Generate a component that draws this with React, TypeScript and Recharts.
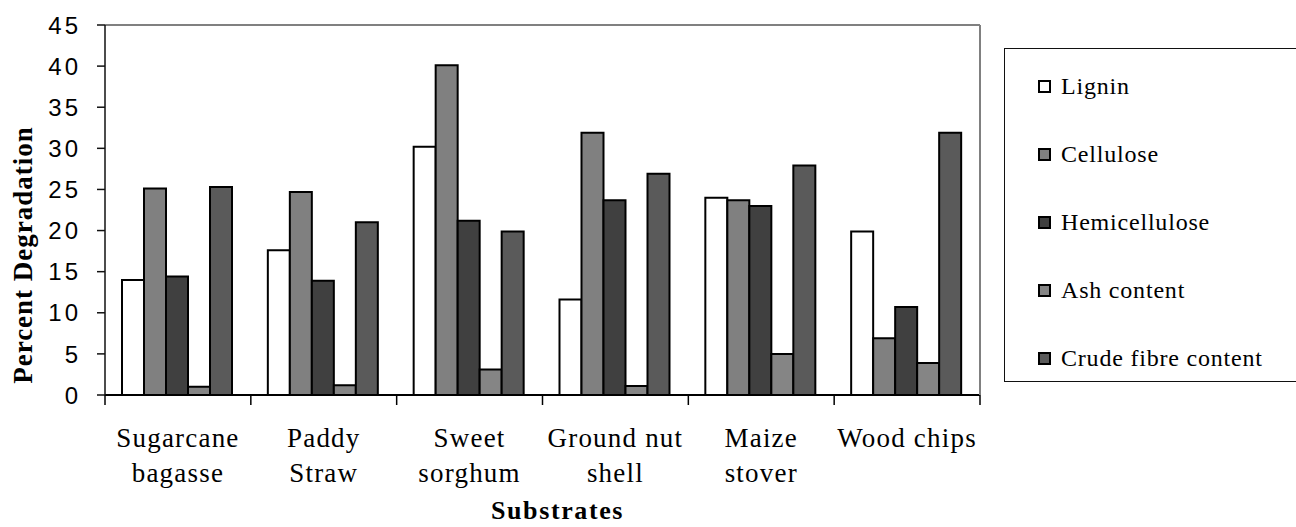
import React from 'react';
import { BarChart, Bar, XAxis, YAxis, Legend } from 'recharts';

const categories = ['Sugarcane bagasse', 'Paddy Straw', 'Sweet sorghum', 'Ground nut shell', 'Maize stover', 'Wood chips'];
const categoryLines = [['Sugarcane', 'bagasse'], ['Paddy', 'Straw'], ['Sweet', 'sorghum'], ['Ground nut', 'shell'], ['Maize', 'stover'], ['Wood chips']];

const seriesNames = ['Lignin', 'Cellulose', 'Hemicellulose', 'Ash content', 'Crude fibre content'];
const lignin = [14.0, 17.6, 30.2, 11.6, 24.0, 19.9];
const cellulose = [25.1, 24.7, 40.1, 31.9, 23.7, 6.9];
const hemicellulose = [14.4, 13.9, 21.2, 23.7, 23.0, 10.7];
const ash = [1.0, 1.2, 3.1, 1.1, 5.0, 3.9];
const crudeFibre = [25.3, 21.0, 19.9, 26.9, 27.9, 31.9];

const yTicks = [0, 5, 10, 15, 20, 25, 30, 35, 40, 45];

const data = categories.map((c, i) => ({
  name: c,
  lignin: lignin[i],
  cellulose: cellulose[i],
  hemicellulose: hemicellulose[i],
  ash: ash[i],
  crude: crudeFibre[i],
}));

const SERIF = '"Liberation Serif", serif';
const SANS = '"Liberation Sans", sans-serif';

const CategoryTick = (props: any) => {
  const { x, y, index, payload, visibleTicksCount } = props;
  const lines = categoryLines[index] || [];
  const half = payload && typeof payload.offset === 'number' ? payload.offset : 0;
  const isLast = index === (visibleTicksCount || categories.length) - 1;
  return (
    <g>
      <line x1={x - half} y1={y} x2={x - half} y2={y + 10} stroke="#000" strokeWidth={1.5} />
      {isLast && <line x1={x + half} y1={y} x2={x + half} y2={y + 10} stroke="#000" strokeWidth={1.5} />}
      {lines.map((l, i) => (
        <text key={i} x={x} y={y + 52 + i * 35} textAnchor="middle" fontFamily={SERIF} fontSize={27} letterSpacing={1.2} fill="#000">
          {l}
        </text>
      ))}
    </g>
  );
};

const YTick = (props: any) => {
  const { x, y, payload } = props;
  return (
    <text x={x} y={y} dy="0.36em" textAnchor="end" fontFamily={SANS} fontSize={24} letterSpacing={3} fill="#000">
      {payload.value}
    </text>
  );
};

const YTitle = (props: any) => {
  const vb = props.viewBox || { x: 0, y: 0, width: 0, height: 0 };
  const cx = vb.x + 32;
  const cy = vb.y + vb.height / 2 + 45;
  return (
    <text x={cx} y={cy} transform={`rotate(-90, ${cx}, ${cy})`} textAnchor="middle" fontFamily={SERIF} fontWeight="bold" fontSize={27} letterSpacing={1} fill="#000">
      Percent Degradation
    </text>
  );
};

const XTitle = (props: any) => {
  const vb = props.viewBox || { x: 0, y: 0, width: 0, height: 0 };
  return (
    <text x={vb.x + vb.width / 2 + 15} y={vb.y + 124} textAnchor="middle" fontFamily={SERIF} fontWeight="bold" fontSize={26} letterSpacing={1.6} fill="#000">
      Substrates
    </text>
  );
};

const LegendBox = (props: any) => {
  const payload = [...(props.payload || [])].sort(
    (a: any, b: any) => seriesNames.indexOf(a.value) - seriesNames.indexOf(b.value)
  );
  return (
    <div style={{ width: 300, height: 334, border: '1.5px solid #111', boxSizing: 'border-box', background: '#fff', paddingTop: 3, fontFamily: SERIF }}>
      {payload.map((entry: any, i: number) => (
        <div key={i} style={{ height: 68, display: 'flex', alignItems: 'center', paddingLeft: 33 }}>
          <div style={{ width: 13, height: 13, boxSizing: 'border-box', border: '2px solid #000', background: entry.color, marginRight: 10 }} />
          <span style={{ fontFamily: SERIF, fontSize: 24, letterSpacing: 0.8, color: '#000' }}>{entry.value}</span>
        </div>
      ))}
    </div>
  );
};

export default function App() {
  return (
    <div style={{ position: 'absolute', left: 0, top: 0, width: 1296, height: 527, background: '#fff' }}>
      <BarChart
        width={1296}
        height={527}
        data={data}
        margin={{ top: 24, right: 315, bottom: 131, left: 0 }}
        barCategoryGap={17}
        barGap={0}
      >
        <XAxis
          dataKey="name"
          height={1}
          axisLine={{ stroke: '#000', strokeWidth: 2 }}
          tickLine={false}
          tickSize={0}
          tickMargin={0}
          interval={0}
          tick={<CategoryTick />}
          label={<XTitle />}
        />
        <XAxis
          xAxisId="top"
          dataKey="name"
          orientation="top"
          height={1}
          tick={false}
          tickLine={false}
          axisLine={{ stroke: '#808080', strokeWidth: 2 }}
        />
        <YAxis
          width={105}
          domain={[0, 45]}
          ticks={yTicks}
          interval={0}
          tickSize={8}
          tickMargin={16}
          tick={<YTick />}
          axisLine={{ stroke: '#111', strokeWidth: 1.5 }}
          tickLine={{ stroke: '#111', strokeWidth: 1.5 }}
          label={<YTitle />}
        />
        <YAxis
          yAxisId="right"
          orientation="right"
          width={1}
          domain={[0, 45]}
          tick={false}
          tickLine={false}
          axisLine={{ stroke: '#808080', strokeWidth: 2 }}
        />
        <Legend
          layout="vertical"
          align="center"
          verticalAlign="middle"
          wrapperStyle={{ left: 1004, top: 48, width: 300, height: 334 }}
          content={<LegendBox />}
        />
        <Bar dataKey="lignin" name="Lignin" fill="#ffffff" stroke="#000" strokeWidth={2} isAnimationActive={false} />
        <Bar dataKey="cellulose" name="Cellulose" fill="#808080" stroke="#000" strokeWidth={2} isAnimationActive={false} />
        <Bar dataKey="hemicellulose" name="Hemicellulose" fill="#404040" stroke="#000" strokeWidth={2} isAnimationActive={false} />
        <Bar dataKey="ash" name="Ash content" fill="#858585" stroke="#000" strokeWidth={2} isAnimationActive={false} />
        <Bar dataKey="crude" name="Crude fibre content" fill="#5a5a5a" stroke="#000" strokeWidth={2} isAnimationActive={false} />
      </BarChart>
    </div>
  );
}
